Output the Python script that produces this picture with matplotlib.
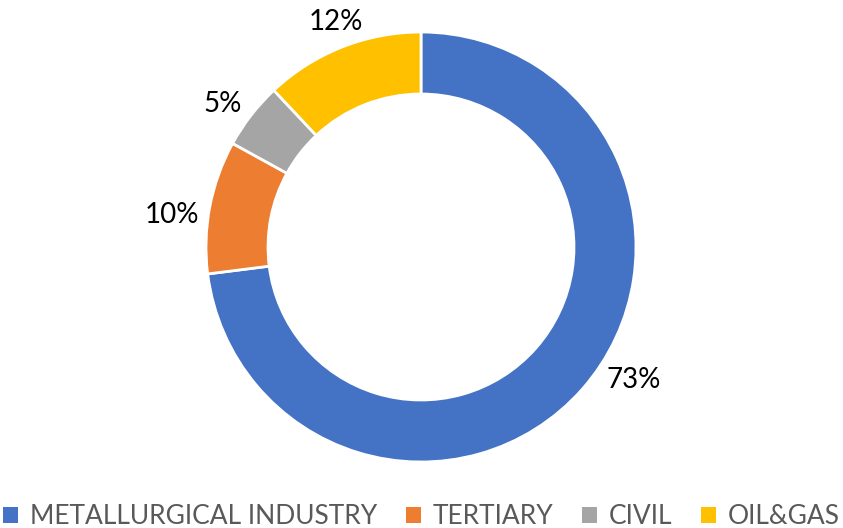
import matplotlib.pyplot as plt
from matplotlib.patches import Patch

plt.rcParams['font.family'] = ['Lato', 'DejaVu Sans']

# данные диаграммы
sectors = ['METALLURGICAL INDUSTRY', 'TERTIARY', 'CIVIL', 'OIL&GAS']
shares = [73, 10, 5, 12]
colors = ['#4472C4', '#ED7D31', '#A5A5A5', '#FFC000']
label_pos = [(634, 148), (172, 313), (223, 424), (336, 506)]

fig = plt.figure(figsize=(8.43, 5.28), dpi=100)
ax = fig.add_axes([0, 0, 1, 1])

ax.pie(shares, colors=colors, startangle=90, counterclock=False,
       center=(421, 281), radius=215,
       wedgeprops=dict(width=62, edgecolor='white', linewidth=2))

for i in range(len(shares)):
    ax.text(label_pos[i][0], label_pos[i][1], str(shares[i]) + '%',
            fontsize=20, ha='center', va='center', color='black')

ax.set_xlim(0, 843)
ax.set_ylim(0, 528)
ax.set_aspect('equal')
ax.axis('off')

handles = [Patch(facecolor=c, edgecolor='none') for c in colors]
leg = fig.legend(handles, sectors, loc='center', bbox_to_anchor=(0.5, 11 / 528),
                 ncol=4, frameon=False, fontsize=19, handlelength=0.55,
                 handleheight=0.55, handletextpad=0.45, columnspacing=1.1,
                 labelcolor='#595959')

fig.savefig('out.png', dpi=100)
